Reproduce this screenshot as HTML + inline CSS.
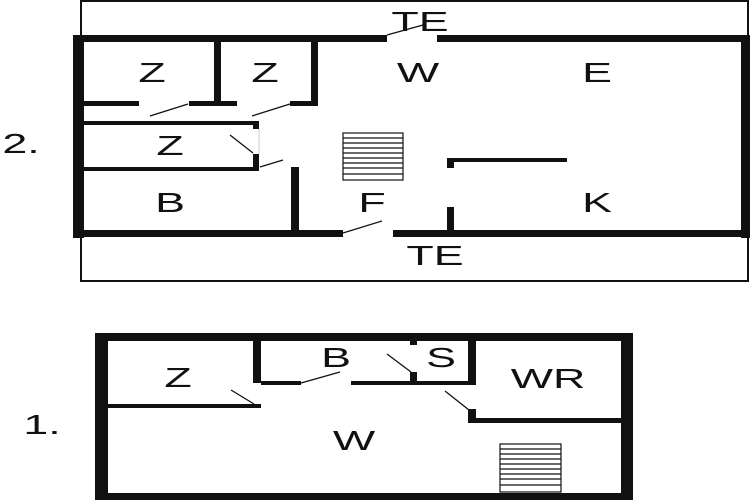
<!DOCTYPE html>
<html><head><style>html,body{margin:0;padding:0;background:#fff}svg{display:block}</style></head>
<body>
<svg width="750" height="500" viewBox="0 0 750 500" xmlns="http://www.w3.org/2000/svg" font-family="Liberation Sans, Arial, sans-serif" font-size="28" text-anchor="middle">
<rect width="750" height="500" fill="#fff"/>
<!-- Upper floor -->
<rect x="81" y="1" width="667" height="280" fill="none" stroke="#111" stroke-width="2"/>
<g fill="#111">
<rect x="73" y="35" width="314" height="7"/>
<rect x="437" y="35" width="313" height="7"/>
<rect x="73" y="35" width="11" height="203"/>
<rect x="741" y="35" width="9" height="203"/>
<rect x="73" y="230" width="270" height="7"/>
<rect x="393" y="230" width="357" height="7"/>
<rect x="214" y="35" width="7" height="71"/>
<rect x="311" y="35" width="7" height="71"/>
<rect x="83" y="101" width="56" height="5"/>
<rect x="189" y="101" width="48" height="5"/>
<rect x="290" y="101" width="28" height="5"/>
<rect x="83" y="121" width="176" height="4"/>
<rect x="253" y="121" width="6" height="8"/>
<rect x="253" y="154" width="6" height="17"/>
<rect x="83" y="167" width="176" height="4"/>
<rect x="291" y="167" width="8" height="64"/>
<rect x="447" y="158" width="7" height="10"/>
<rect x="447" y="158" width="120" height="4"/>
<rect x="447" y="207" width="7" height="26"/>
</g>
<g stroke="#111" stroke-width="1.3">
<line x1="387" y1="35" x2="423" y2="25"/>
<line x1="150" y1="116" x2="188" y2="104"/>
<line x1="252" y1="116" x2="290" y2="104"/>
<line x1="230" y1="135" x2="253" y2="153"/>
<line x1="260" y1="167" x2="283" y2="160"/>
<line x1="343" y1="233" x2="382" y2="221"/>
</g>
<g stroke="#ccc" stroke-width="1"><line x1="259" y1="129" x2="259" y2="154"/></g>
<g fill="none" stroke="#111" stroke-width="1.2">
<rect x="343" y="133" width="60" height="47"/>
<line x1="343" y1="138" x2="403" y2="138"/><line x1="343" y1="143" x2="403" y2="143"/>
<line x1="343" y1="148" x2="403" y2="148"/><line x1="343" y1="153" x2="403" y2="153"/>
<line x1="343" y1="158" x2="403" y2="158"/><line x1="343" y1="163" x2="403" y2="163"/>
<line x1="343" y1="168" x2="403" y2="168"/><line x1="343" y1="174" x2="403" y2="174"/>
</g>
<g fill="#111">
<g transform="translate(420,31) scale(1.6,1)"><text>TE</text></g>
<g transform="translate(418,82) scale(1.6,1)"><text>W</text></g>
<g transform="translate(597,82) scale(1.6,1)"><text>E</text></g>
<g transform="translate(152,82) scale(1.6,1)"><text>Z</text></g>
<g transform="translate(265,82) scale(1.6,1)"><text>Z</text></g>
<g transform="translate(170,155) scale(1.6,1)"><text>Z</text></g>
<g transform="translate(170,212) scale(1.6,1)"><text>B</text></g>
<g transform="translate(372,212) scale(1.6,1)"><text>F</text></g>
<g transform="translate(597,212) scale(1.6,1)"><text>K</text></g>
<g transform="translate(435,265) scale(1.6,1)"><text>TE</text></g>
<g transform="translate(21,153) scale(1.6,1)"><text>2.</text></g>
</g>
<!-- Lower floor -->
<g fill="#111">
<rect x="95" y="333" width="538" height="8"/>
<rect x="95" y="333" width="13" height="167"/>
<rect x="621" y="333" width="12" height="167"/>
<rect x="95" y="493" width="538" height="7"/>
<rect x="108" y="404" width="153" height="4"/>
<rect x="253" y="333" width="8" height="50"/>
<rect x="261" y="381" width="40" height="4"/>
<rect x="351" y="381" width="59" height="4"/>
<rect x="410" y="333" width="7" height="12"/>
<rect x="410" y="372" width="7" height="13"/>
<rect x="417" y="381" width="59" height="4"/>
<rect x="468" y="333" width="8" height="52"/>
<rect x="468" y="409" width="8" height="14"/>
<rect x="468" y="418" width="153" height="5"/>
</g>
<g stroke="#111" stroke-width="1.3">
<line x1="231" y1="390" x2="254" y2="404"/>
<line x1="301" y1="383" x2="340" y2="372"/>
<line x1="387" y1="354" x2="411" y2="372"/>
<line x1="445" y1="391" x2="469" y2="410"/>
</g>
<g fill="none" stroke="#111" stroke-width="1.2">
<rect x="500" y="444" width="61" height="48"/>
<line x1="500" y1="449" x2="561" y2="449"/><line x1="500" y1="454" x2="561" y2="454"/>
<line x1="500" y1="459" x2="561" y2="459"/><line x1="500" y1="464" x2="561" y2="464"/>
<line x1="500" y1="469" x2="561" y2="469"/><line x1="500" y1="474" x2="561" y2="474"/>
<line x1="500" y1="479" x2="561" y2="479"/><line x1="500" y1="485" x2="561" y2="485"/>
</g>
<g fill="#111">
<g transform="translate(336,367) scale(1.6,1)"><text>B</text></g>
<g transform="translate(441,367) scale(1.6,1)"><text>S</text></g>
<g transform="translate(548,388) scale(1.6,1)"><text>WR</text></g>
<g transform="translate(178,387) scale(1.6,1)"><text>Z</text></g>
<g transform="translate(354,450) scale(1.6,1)"><text>W</text></g>
<g transform="translate(42,434) scale(1.6,1)"><text>1.</text></g>
</g>
</svg>
</body></html>
